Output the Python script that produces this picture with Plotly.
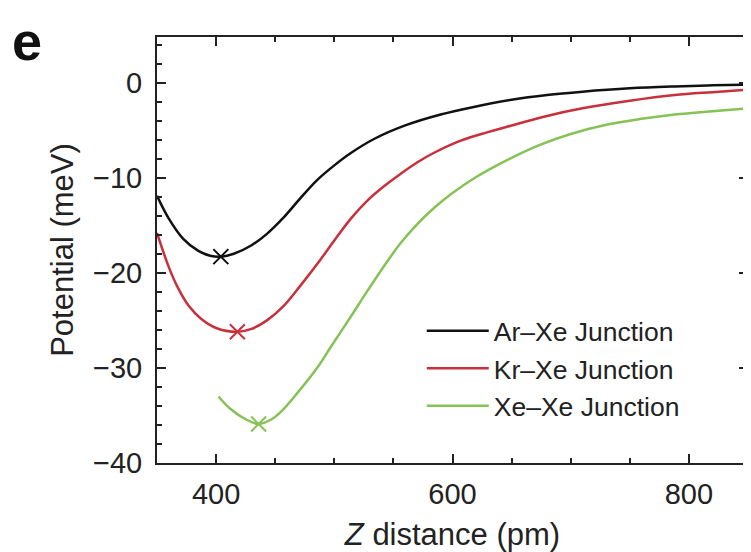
import plotly.graph_objects as go

# Data
ar_x = [350, 360, 372, 385, 395, 404, 415, 430, 443, 457, 471, 485, 500, 514, 534, 560, 590, 620, 650, 680, 710, 750, 788, 820, 850]
ar_y = [-11.9, -14.3, -16.4, -17.7, -18.2, -18.3, -18.0, -17.1, -15.9, -14.2, -12.2, -10.3, -8.7, -7.4, -5.9, -4.5, -3.35, -2.5, -1.8, -1.3, -0.95, -0.6, -0.4, -0.28, -0.2]

kr_x = [350, 360, 367, 377, 387, 400, 418, 430, 443, 457, 471, 486, 500, 514, 528, 542, 556, 570, 584, 607, 630, 650, 680, 710, 750, 788, 820, 850]
kr_y = [-15.8, -19.4, -21.4, -23.5, -24.8, -25.8, -26.2, -25.9, -25.0, -23.5, -21.4, -19.0, -16.6, -14.3, -12.4, -10.9, -9.6, -8.4, -7.4, -6.1, -5.2, -4.5, -3.5, -2.7, -1.9, -1.3, -1.0, -0.75]

xe_x = [402, 412, 425, 436, 447, 455, 469, 486, 497, 514, 528, 542, 556, 570, 585, 600, 619, 636, 650, 675, 700, 731, 760, 788, 820, 850]
xe_y = [-33.0, -34.3, -35.4, -35.9, -35.4, -34.6, -32.6, -29.9, -27.8, -24.6, -21.9, -19.3, -16.9, -14.9, -13.1, -11.6, -10.0, -8.8, -7.9, -6.5, -5.4, -4.4, -3.8, -3.35, -3.0, -2.7]

min_x = [404, 418, 436]
min_y = [-18.3, -26.2, -35.9]

names = ["Ar\u2013Xe Junction", "Kr\u2013Xe Junction", "Xe\u2013Xe Junction"]
colors = ["#111111", "#c8303c", "#86c255"]

FONT = "Liberation Sans, Arial, sans-serif"
TXT = "#222222"

fig = go.Figure()
series = [(ar_x, ar_y), (kr_x, kr_y), (xe_x, xe_y)]
for (xs, ys), name, col in zip(series, names, colors):
    fig.add_trace(go.Scatter(x=xs, y=ys, mode="lines", name=name,
                             line=dict(color=col, width=2.5, shape="spline", smoothing=1.0)))
for mx, my, col in zip(min_x, min_y, colors):
    fig.add_trace(go.Scatter(x=[mx], y=[my], mode="markers", showlegend=False,
                             marker=dict(symbol="x-thin", size=15, color=col,
                                         line=dict(color=col, width=2))))

axis_common = dict(showline=True, linecolor=TXT, linewidth=2, mirror="allticks",
                   ticks="inside", ticklen=9, tickwidth=2, tickcolor=TXT,
                   showgrid=False, zeroline=False, automargin=False,
                   tickfont=dict(family=FONT, size=29, color=TXT))

fig.update_xaxes(range=[350, 850], tickvals=[400, 600, 800], ticklabelstandoff=4,
                 minor=dict(dtick=50, tick0=350, ticks="inside", ticklen=5, tickwidth=1.5, tickcolor=TXT),
                 title=dict(text="<i>Z</i> distance (pm)", font=dict(family=FONT, size=31, color=TXT), standoff=18),
                 **axis_common)
fig.update_yaxes(range=[-40, 4.8], tickvals=[0, -10, -20, -30, -40],
                 ticktext=["0", "\u221210", "\u221220", "\u221230", "\u221240"], ticklabelstandoff=7,
                 minor=dict(dtick=2, tick0=0, ticks="inside", ticklen=5, tickwidth=1.5, tickcolor=TXT),
                 title=dict(text="Potential (meV)", font=dict(family=FONT, size=31, color=TXT), standoff=10),
                 **axis_common)

# page body has an 8px margin, so the figure is 8px smaller than the window
fig.update_layout(
    width=743, height=544,
    margin=dict(l=149, r=3, t=29, b=89),
    paper_bgcolor="white", plot_bgcolor="white",
    showlegend=True,
    legend=dict(x=0.448, y=0.366, xanchor="left", yanchor="top",
                bgcolor="rgba(0,0,0,0)", font=dict(family=FONT, size=26.5, color=TXT),
                itemwidth=62, tracegroupgap=0),
    annotations=[dict(text="<b>e</b>", xref="paper", yref="paper", x=-0.248, y=1.066,
                      xanchor="left", yanchor="top", showarrow=False,
                      font=dict(family=FONT, size=54, color="#111111"))],
)

fig.write_html("out.html")
